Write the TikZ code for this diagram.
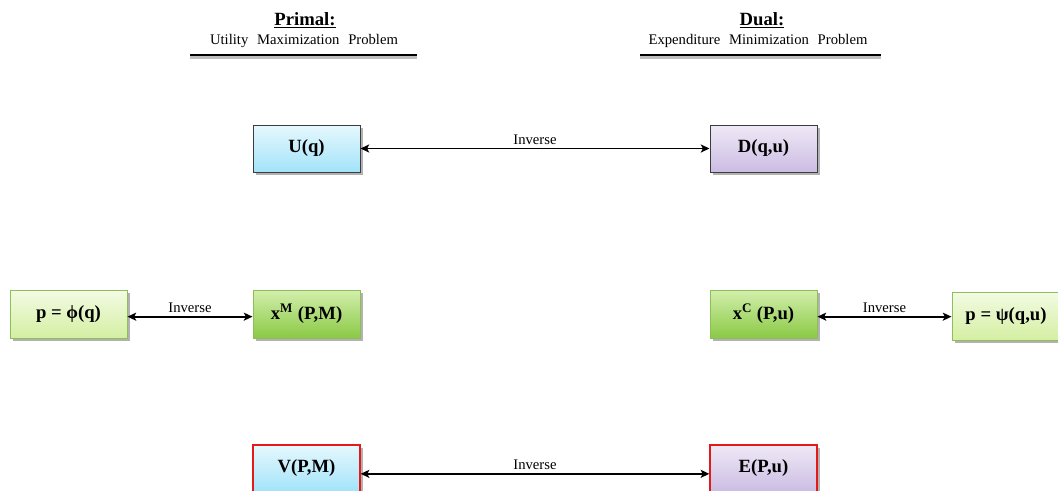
\documentclass[tikz,border=0pt]{standalone}
\usepackage{fontspec}
\setmainfont{Liberation Serif}
\usetikzlibrary{arrows.meta,shadows}
\definecolor{cyanT}{HTML}{E6F8FD}
\definecolor{cyanB}{HTML}{A2E3F9}
\definecolor{lavT}{HTML}{EFE9F6}
\definecolor{lavB}{HTML}{CBBCE3}
\definecolor{lgT}{HTML}{F3FBE4}
\definecolor{lgB}{HTML}{D4EFA2}
\definecolor{gT}{HTML}{D2EFAC}
\definecolor{gB}{HTML}{8AC945}
\definecolor{gBorder}{HTML}{8DBE57}
\definecolor{dBorder}{HTML}{3C3C3C}
\definecolor{rBorder}{HTML}{E21A1A}
\begin{document}
\begin{tikzpicture}[x=0.75pt,y=-0.75pt,
  box/.style={line width=0.75pt, minimum width=80.25pt, minimum height=35.25pt,
    inner sep=0pt, font=\fontsize{14}{16}\selectfont\bfseries,
    drop shadow={shadow xshift=2pt, shadow yshift=-2pt, opacity=0.3, fill=black}},
  cyanbox/.style={box, draw=dBorder, top color=cyanT, bottom color=cyanB},
  lavbox/.style={box, draw=dBorder, top color=lavT, bottom color=lavB},
  cyanredbox/.style={box, draw=rBorder, line width=1pt, top color=cyanT, bottom color=cyanB},
  lavredbox/.style={box, draw=rBorder, line width=1pt, top color=lavT, bottom color=lavB},
  lgbox/.style={box, draw=gBorder, top color=lgT, bottom color=lgB, minimum width=87.75pt, minimum height=36pt},
  gbox/.style={box, draw=gBorder, top color=gT, bottom color=gB, minimum height=36pt},
  arr/.style={{Stealth[length=6.5pt,width=6pt,inset=1.5pt]}-{Stealth[length=6.5pt,width=6pt,inset=1.5pt]}, line width=1.4pt},
  lbl/.style={above, inner sep=2.5pt, font=\fontsize{11}{13}\selectfont},
  title/.style={font=\fontsize{14}{16}\selectfont\bfseries, inner sep=0pt},
  subtitle/.style={font=\fontsize{11}{13}\selectfont, inner sep=0pt},
]
\useasboundingbox (0,0) rectangle (1058,490);

% headers
\node[title] (primal) at (305,20) {\underline{Primal:}};
\node[subtitle] (primsub) at (304,41) {Utility\hspace{0.6em}Maximization\hspace{0.6em}Problem};
\node[title] (dual) at (762,20) {\underline{Dual:}};
\node[subtitle] (dualsub) at (758,41) {Expenditure\hspace{0.6em}Minimization\hspace{0.6em}Problem};
\coordinate (pl1) at (190,55); \coordinate (pl2) at (417,55);
\coordinate (dl1) at (640,55); \coordinate (dl2) at (881,55);
\draw[line width=2pt, black!25] ([yshift=-2pt]pl1) -- ([yshift=-2pt]pl2);
\draw[line width=2pt, black!25] ([yshift=-2pt]dl1) -- ([yshift=-2pt]dl2);
\draw[line width=1.6pt] (pl1) -- (pl2);
\draw[line width=1.6pt] (dl1) -- (dl2);

% boxes
\node[cyanbox] (U) at (306.5,148.5) {U(q)};
\node[lavbox] (D) at (763.5,148.5) {D(q,u)};
\node[lgbox] (phi) at (68.5,314) {p = ϕ(q)};
\node[gbox] (xM) at (306.5,314) {x\textsuperscript{M} (P,M)};
\node[gbox] (xC) at (763.5,314) {x\textsuperscript{C} (P,u)};
\node[lgbox, minimum width=81pt] (psi) at (1006,316) {p = ψ(q,u)};
\node[cyanredbox] (V) at (306.5,468.5) {V(P,M)};
\node[lavredbox] (E) at (763.5,468.5) {E(P,u)};

% connectors
\draw[arr] (U) -- node[lbl] {Inverse} (D);
\draw[arr] ([yshift=-2pt]phi.east) -- node[lbl] {Inverse} ([yshift=-2pt]xM.west);
\draw[arr] ([yshift=-2pt]xC.east) -- node[lbl] {Inverse} ([yshift=-2pt]xC.east -| psi.west);
\draw[arr] ([yshift=-4pt]V.east) -- node[lbl] {Inverse} ([yshift=-4pt]E.west);
\end{tikzpicture}
\end{document}
